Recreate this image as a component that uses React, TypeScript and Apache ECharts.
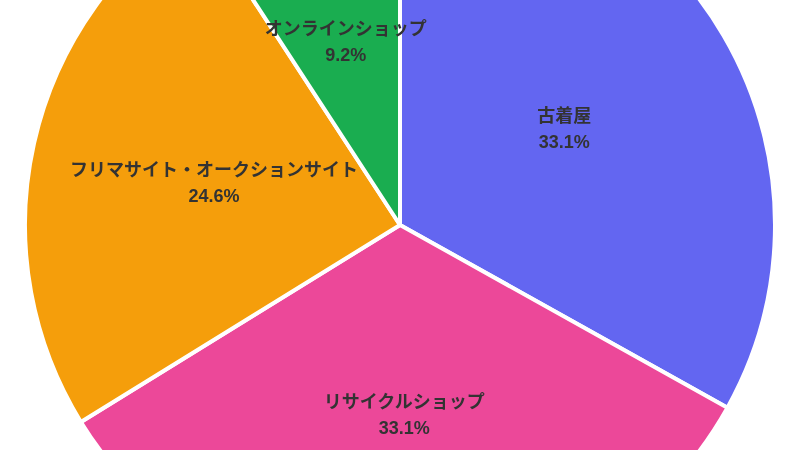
import { useEffect, useRef } from 'react';
import * as echarts from 'echarts';

const categories = ['古着屋', 'リサイクルショップ', 'フリマサイト・オークションサイト', 'オンラインショップ'];
const values = [33.1, 33.1, 24.6, 9.2];
const colors = ['#6366f1', '#ec4899', '#f59e0b', '#1aad50'];

function App() {
  const chartRef = useRef<HTMLDivElement>(null);

  useEffect(() => {
    if (!chartRef.current) return;
    const chart = echarts.init(chartRef.current, null, { renderer: 'svg' });

    chart.setOption({
      animation: false,
      series: [
        {
          type: 'pie',
          center: [400, 225],
          radius: [0, 375],
          startAngle: 90,
          clockwise: true,
          data: categories.map((name, i) => ({
            name,
            value: values[i],
            itemStyle: { color: colors[i] },
          })),
          itemStyle: { borderColor: '#fff', borderWidth: 4 },
          label: {
            show: true,
            position: 'inside',
            formatter: (p: { name: string; value: number }) => `${p.name}\n${p.value.toFixed(1)}%`,
            color: '#333',
            fontSize: 18,
            fontWeight: 'bold',
            lineHeight: 26,
            fontFamily: '"Liberation Sans", "Noto Sans CJK JP", sans-serif',
          },
          labelLine: { show: false },
          emphasis: { disabled: true },
        },
      ],
    });

    return () => chart.dispose();
  }, []);

  return <div ref={chartRef} style={{ width: 800, height: 450, position: 'fixed', left: 0, top: 0 }} />;
}

export default App;
